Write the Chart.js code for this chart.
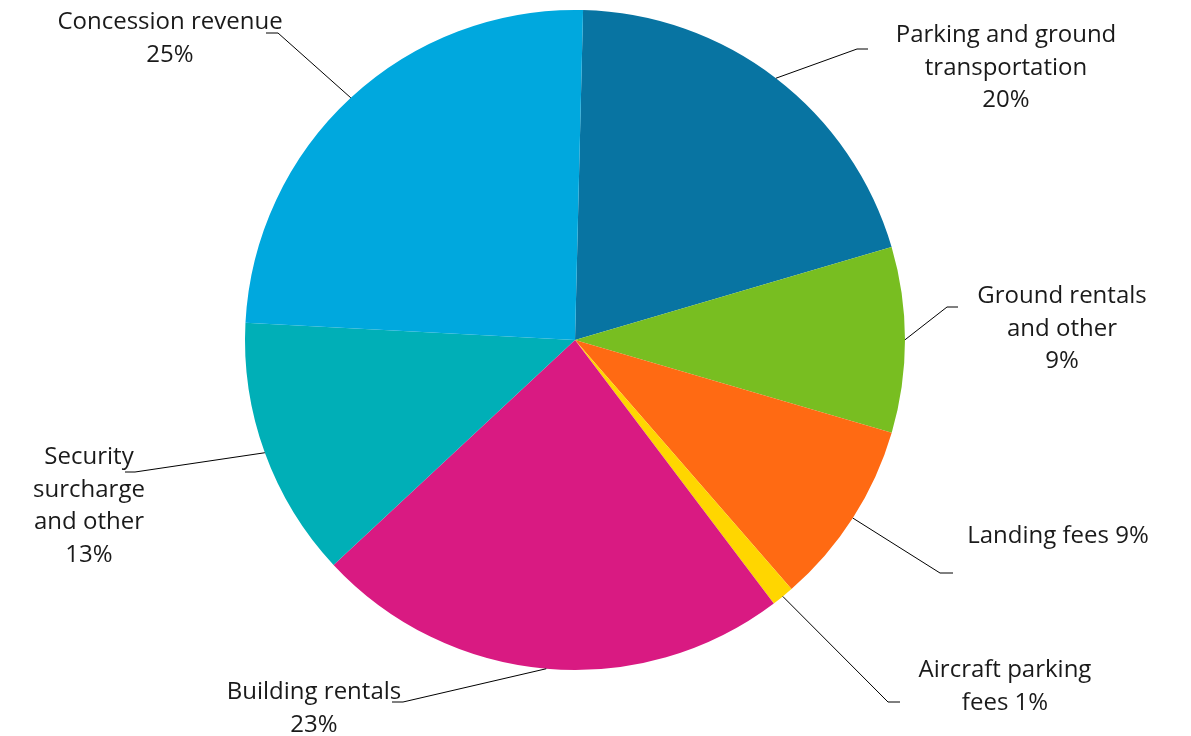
<!DOCTYPE html>
<html>
<head>
<meta charset="utf-8">
<script src="https://cdn.jsdelivr.net/npm/chart.js"></script>
<style>
  html, body { margin: 0; padding: 0; background: #fff; }
  .wrap { width: 1191px; height: 736px; position: relative; }
</style>
</head>
<body>
<div class="wrap"><canvas id="pieChart"></canvas></div>
<script>
// revenue shares, clockwise from the top
const categories = [
  "Parking and ground transportation",
  "Ground rentals and other",
  "Landing fees",
  "Aircraft parking fees",
  "Building rentals",
  "Security surcharge and other",
  "Concession revenue",
];
const shares = [20.1, 9.1, 9.1, 1.1, 23.4, 12.8, 24.6];
const colors = ["#0874A2", "#78BE21", "#FF6A13", "#FFD600", "#D91A82", "#00AFB7", "#00A8DE"];

// how each label is broken into lines ({p} = percentage)
const labelLines = [
  ["Parking and ground", "transportation", "{p}"],
  ["Ground rentals", "and other", "{p}"],
  ["Landing fees {p}"],
  ["Aircraft parking", "fees {p}"],
  ["Building rentals", "{p}"],
  ["Security", "surcharge", "and other", "{p}"],
  ["Concession revenue", "{p}"],
];

// leader line elbow, end of the short tick, text centre / first line y
const labelPlace = [
  { elbow: [857, 49], tick: [868, 49], text: [1006, 35] },
  { elbow: [947, 307], tick: [958, 307], text: [1062, 296] },
  { elbow: [940, 573], tick: [953, 573], text: [1058, 536] },
  { elbow: [888, 702], tick: [900, 702], text: [1005, 670] },
  { elbow: [403, 702], tick: [392, 702], text: [314, 692] },
  { elbow: [135, 472], tick: [125, 472], text: [89, 457] },
  { elbow: [278, 33], tick: [266, 33], text: [170, 22] },
];

const ctx = document.getElementById("pieChart");

const calloutPlugin = {
  id: "callouts",
  afterDatasetsDraw(chart) {
    const c = chart.ctx;
    const arcs = chart.getDatasetMeta(0).data;
    c.save();
    c.strokeStyle = "#000";
    c.lineWidth = 1;
    c.fillStyle = "#1a1a1a";
    c.font = "24px 'Open Sans'";
    c.textAlign = "center";
    c.textBaseline = "middle";
    arcs.forEach((arc, i) => {
      const mid = (arc.startAngle + arc.endAngle) / 2;
      const x0 = arc.x + Math.cos(mid) * arc.outerRadius;
      const y0 = arc.y + Math.sin(mid) * arc.outerRadius;
      const p = labelPlace[i];
      c.beginPath();
      c.moveTo(x0, y0);
      c.lineTo(p.elbow[0], p.elbow[1]);
      c.lineTo(p.tick[0], p.tick[1]);
      c.stroke();
      const pct = Math.round(shares[i]) + "%";
      labelLines[i].forEach((line, k) => {
        c.fillText(line.replace("{p}", pct), p.text[0], p.text[1] + k * 32.7);
      });
    });
    c.restore();
  },
};

new Chart(ctx, {
  type: "pie",
  data: {
    labels: categories,
    datasets: [
      {
        data: shares,
        backgroundColor: colors,
        borderWidth: 0,
      },
    ],
  },
  options: {
    responsive: true,
    maintainAspectRatio: false,
    animation: false,
    rotation: 1.4,
    layout: {
      padding: { top: 10, bottom: 66, left: 245, right: 286 },
    },
    plugins: {
      legend: { display: false },
      tooltip: { enabled: false },
    },
  },
  plugins: [calloutPlugin],
});
</script>
</body>
</html>
